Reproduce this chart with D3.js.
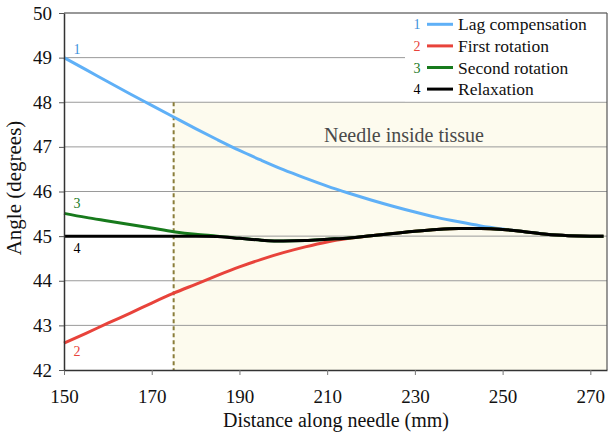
<!DOCTYPE html>
<html><head><meta charset="utf-8">
<script src="https://cdn.jsdelivr.net/npm/d3@7/dist/d3.min.js"></script>
<style>body{margin:0;background:#fff;}svg{display:block;}text{font-family:'Liberation Serif','DejaVu Serif',serif;}</style>
</head><body><svg id="c" width="616" height="440"></svg>
<script>
const distance = [150,155,160,165,170,175,180,185,190,195,200,205,210,215,220,225,230,235,240,245,250,255,260,265,270,273];
const lagCompensation = [49.00,48.73,48.46,48.19,47.93,47.67,47.41,47.16,46.92,46.70,46.49,46.30,46.12,45.96,45.81,45.67,45.54,45.42,45.32,45.23,45.16,45.10,45.04,45.01,45.00,45.00];
const firstRotation = [42.60,42.82,43.05,43.27,43.50,43.72,43.92,44.12,44.31,44.48,44.63,44.76,44.87,44.95,45.01,45.06,45.11,45.15,45.17,45.17,45.15,45.10,45.04,45.01,45.00,45.00];
const secondRotation = [45.51,45.42,45.34,45.26,45.18,45.10,45.04,45.00,44.95,44.91,44.89,44.90,44.93,44.96,45.01,45.06,45.11,45.15,45.17,45.17,45.15,45.10,45.04,45.01,45.00,45.00];
const relaxation = [45.00,45.00,45.00,45.00,45.00,45.00,45.00,44.99,44.95,44.91,44.89,44.90,44.93,44.96,45.01,45.06,45.11,45.15,45.17,45.17,45.15,45.10,45.04,45.01,45.00,45.00];
const seriesNames = ["Lag compensation","First rotation","Second rotation","Relaxation"];
const seriesIds = ["1","2","3","4"];
const xTicks = [150,170,190,210,230,250,270];
const yTicks = [42,43,44,45,46,47,48,49,50];
const tissueStart = 175;
const tissueTop = 48;
const regionLabel = "Needle inside tissue";

const FONT = "'Liberation Serif','DejaVu Serif',serif";
const colors = ["#5fb0f7","#e8433b","#177a1c","#000000"];
const idColors = ["#3f93dc","#e8433b","#177a1c","#000000"];
const allSeries = [lagCompensation, firstRotation, secondRotation, relaxation];

const svg = d3.select("#c");
const L = 64, R = 607, T = 13, B = 370;
const x = d3.scaleLinear().domain([150, 273.8]).range([L, R]);
const y = d3.scaleLinear().domain([42, 50]).range([B, T]);

// shaded region
svg.append("rect").attr("x", x(tissueStart)).attr("y", y(tissueTop))
  .attr("width", R - x(tissueStart)).attr("height", B - y(tissueTop)).attr("fill", "#fdfbee");

// gridlines
svg.append("g").selectAll("line").data(yTicks.filter(v => v > 42 && v < 50)).join("line")
  .attr("x1", L).attr("x2", R).attr("y1", d => y(d)).attr("y2", d => y(d))
  .attr("stroke", "#9a9a9a").attr("stroke-width", 1);

// legend background (covers upper gridline)
svg.append("rect").attr("x", 405).attr("y", T).attr("width", R - 405).attr("height", y(48) - T - 1).attr("fill", "#fff");

// region label
svg.append("text").attr("x", 404).attr("y", 142).attr("text-anchor", "middle")
  .attr("font-family", FONT).attr("font-size", 20).attr("fill", "#4a4a4a").text(regionLabel);

// dashed line
svg.append("line").attr("x1", x(tissueStart)).attr("x2", x(tissueStart))
  .attr("y1", y(tissueTop)).attr("y2", B).attr("stroke", "#8a7d3a")
  .attr("stroke-width", 2).attr("stroke-dasharray", "4,3");

// lines
const line = d3.line().x((d, i) => x(distance[i])).y(d => y(d)).curve(d3.curveMonotoneX);
allSeries.forEach((s, k) => {
  svg.append("path").datum(s).attr("d", line).attr("fill", "none")
    .attr("stroke", colors[k]).attr("stroke-width", 3);
});

// frame
svg.append("line").attr("x1", L).attr("x2", R).attr("y1", T).attr("y2", T).attr("stroke", "#333").attr("stroke-width", 1.2);
svg.append("line").attr("x1", R).attr("x2", R).attr("y1", T).attr("y2", B).attr("stroke", "#555").attr("stroke-width", 1.2);

// axes
const xAxis = d3.axisBottom(x).tickValues(xTicks).tickSize(5).tickSizeOuter(0);
const gx = svg.append("g").attr("transform", `translate(0,${B})`).call(xAxis);
gx.attr("font-family", FONT);
gx.select(".domain").attr("stroke", "#333").attr("stroke-width", 1.5);
gx.selectAll(".tick line").attr("stroke", "#777");
gx.selectAll("text").attr("y", 33).attr("dy", "0").attr("font-size", 19).attr("fill", "#111").attr("font-family", FONT);

const yAxis = d3.axisLeft(y).tickValues(yTicks).tickSize(5).tickPadding(7).tickSizeOuter(0);
const gy = svg.append("g").attr("transform", `translate(${L},0)`).call(yAxis);
gy.attr("font-family", FONT);
gy.select(".domain").attr("stroke", "#333").attr("stroke-width", 1.5);
gy.selectAll(".tick line").attr("stroke", "#555");
gy.selectAll("text").attr("font-size", 19).attr("fill", "#111").attr("font-family", FONT);

// axis titles
svg.append("text").attr("x", 336).attr("y", 427).attr("text-anchor", "middle")
  .attr("font-family", FONT).attr("font-size", 20).attr("fill", "#111").text("Distance along needle (mm)");
svg.append("text").attr("transform", `translate(21,188) rotate(-90)`).attr("text-anchor", "middle")
  .attr("font-family", FONT).attr("font-size", 21).attr("fill", "#111").text("Angle (degrees)");

// series id labels near left
const idOffsets = [-3.5, 13, -5, 17];
allSeries.forEach((s, k) => {
  svg.append("text").attr("x", L + 13).attr("y", y(s[0]) + idOffsets[k]).attr("text-anchor", "middle")
    .attr("font-family", FONT).attr("font-size", 14).attr("fill", idColors[k]).text(seriesIds[k]);
});

// legend
const lg = svg.append("g");
seriesNames.forEach((n, k) => {
  const yy = 24.3 + k * 21.6;
  lg.append("text").attr("x", 417).attr("y", yy + 5).attr("text-anchor", "middle")
    .attr("font-family", FONT).attr("font-size", 14).attr("fill", idColors[k]).text(seriesIds[k]);
  lg.append("line").attr("x1", 427).attr("x2", 453).attr("y1", yy).attr("y2", yy)
    .attr("stroke", colors[k]).attr("stroke-width", 3);
  lg.append("text").attr("x", 458).attr("y", yy + 6).attr("font-family", FONT)
    .attr("font-size", 17.5).attr("fill", "#111").text(n);
});
</script></body></html>
